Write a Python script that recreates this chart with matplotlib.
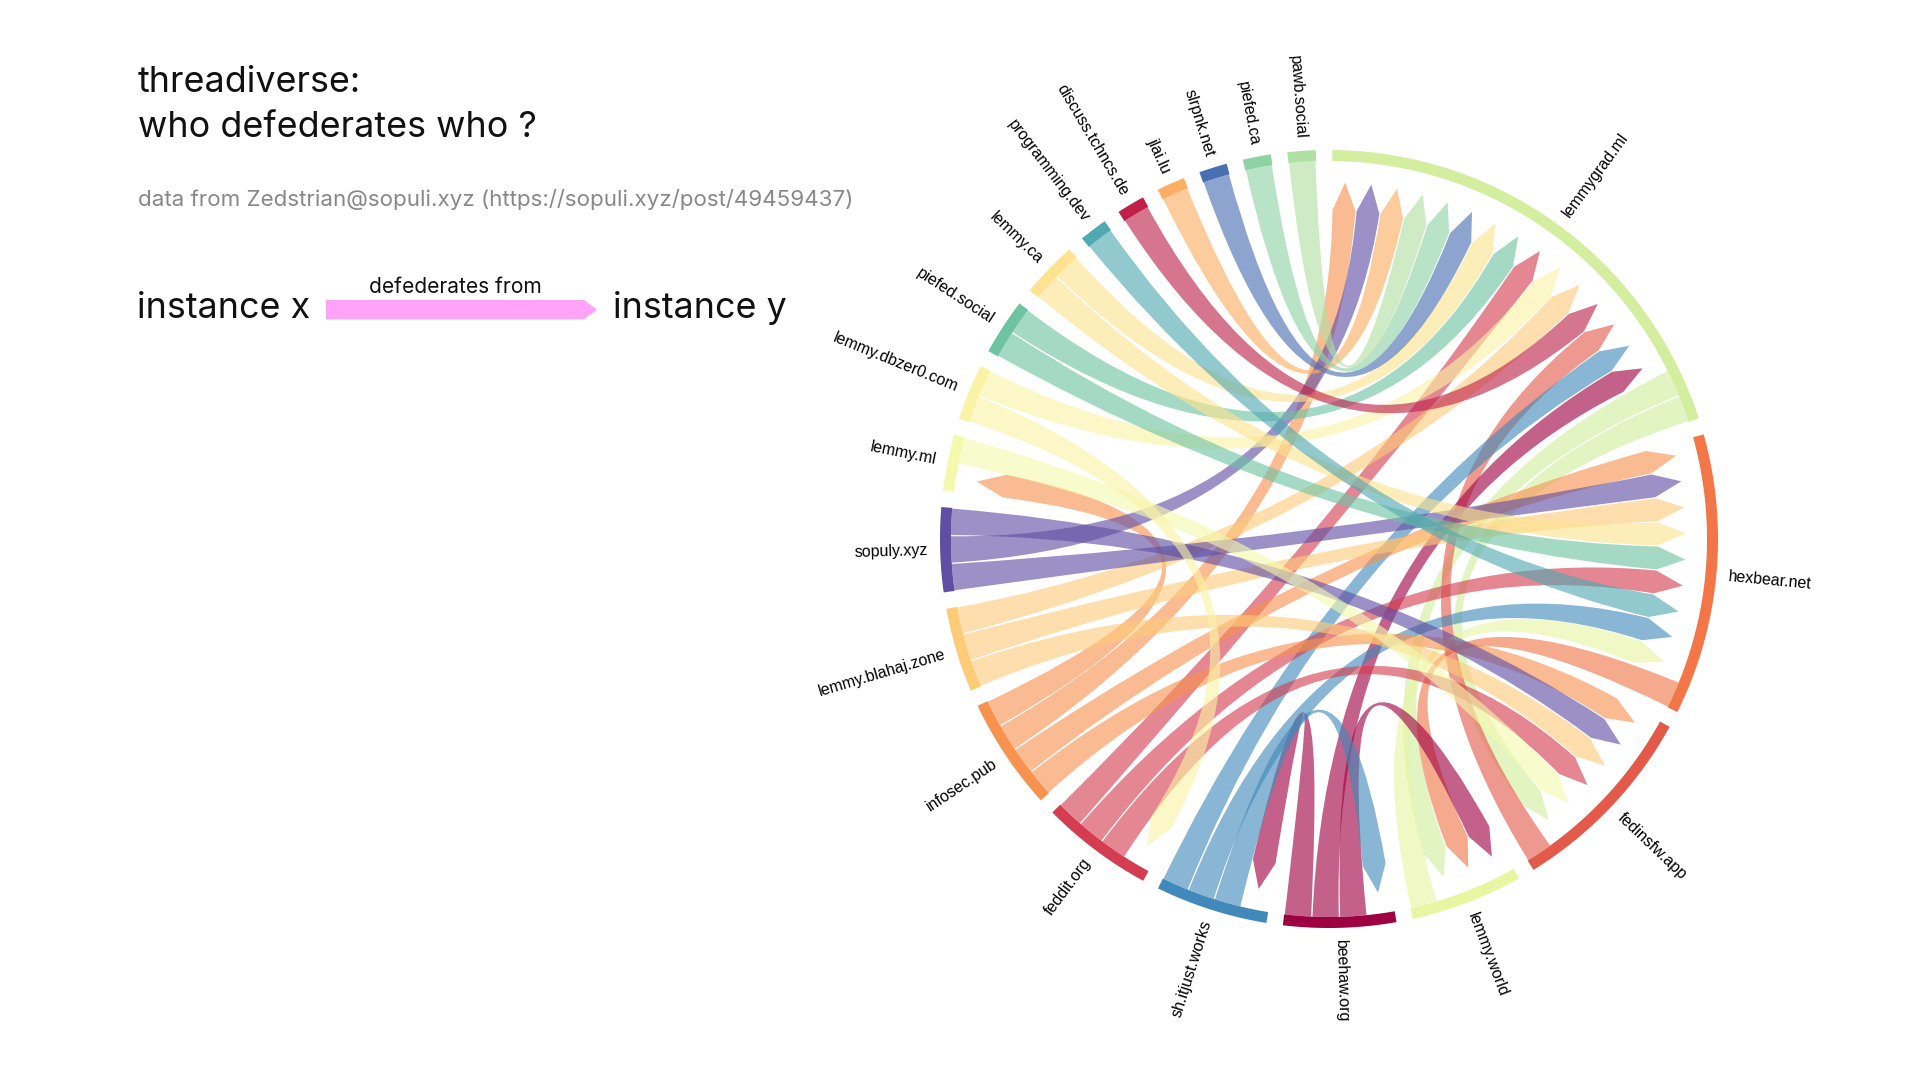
import numpy as np
import matplotlib
matplotlib.use("Agg")
import matplotlib.pyplot as plt
from matplotlib.path import Path
from matplotlib.patches import PathPatch, Polygon

# instances, clockwise from the top of the circle
instances = [
    "lemmygrad.ml", "hexbear.net", "fedinsfw.app", "lemmy.world", "beehaw.org",
    "sh.itjust.works", "feddit.org", "infosec.pub", "lemmy.blahaj.zone", "sopuly.xyz",
    "lemmy.ml", "lemmy.dbzer0.com", "piefed.social", "lemmy.ca", "programming.dev",
    "discuss.tchncs.de", "jlai.lu", "slrpnk.net", "piefed.ca", "pawb.social",
]
ring_colors = [
    "#d3ee9f", "#f27647", "#e35a4a", "#e8f6a2", "#9e0142",
    "#4189ba", "#d43d4f", "#f7924f", "#fecb79", "#5f4ea3",
    "#f5f9ad", "#faf3a5", "#6dc3a4", "#fde38f", "#50a8b2",
    "#be2049", "#fdae62", "#486fb1", "#8fd3a3", "#b0dfa4",
]

# who defederates from whom (targets listed in the order they leave the arc)
defederates = {
    "lemmygrad.ml": ["lemmy.world", "fedinsfw.app"],
    "hexbear.net": ["lemmy.world"],
    "fedinsfw.app": ["lemmygrad.ml"],
    "lemmy.world": ["hexbear.net"],
    "beehaw.org": ["lemmy.world", "lemmygrad.ml", "sh.itjust.works"],
    "sh.itjust.works": ["beehaw.org", "hexbear.net", "lemmygrad.ml"],
    "feddit.org": ["fedinsfw.app", "hexbear.net", "lemmygrad.ml"],
    "infosec.pub": ["fedinsfw.app", "hexbear.net", "lemmygrad.ml", "lemmy.ml"],
    "lemmy.blahaj.zone": ["fedinsfw.app", "hexbear.net", "lemmygrad.ml"],
    "sopuly.xyz": ["hexbear.net", "lemmygrad.ml", "fedinsfw.app"],
    "lemmy.ml": ["fedinsfw.app"],
    "lemmy.dbzer0.com": ["feddit.org", "lemmygrad.ml"],
    "piefed.social": ["hexbear.net", "lemmygrad.ml"],
    "lemmy.ca": ["hexbear.net", "lemmygrad.ml"],
    "programming.dev": ["hexbear.net"],
    "discuss.tchncs.de": ["lemmygrad.ml"],
    "jlai.lu": ["lemmygrad.ml"],
    "slrpnk.net": ["lemmygrad.ml"],
    "piefed.ca": ["lemmygrad.ml"],
    "pawb.social": ["lemmygrad.ml"],
}
# order in which the arrows arrive on each arc
received_from = {
    "lemmygrad.ml": ["infosec.pub", "sopuly.xyz", "jlai.lu", "pawb.social", "piefed.ca",
                     "slrpnk.net", "lemmy.ca", "piefed.social", "feddit.org",
                     "lemmy.dbzer0.com", "lemmy.blahaj.zone", "discuss.tchncs.de",
                     "fedinsfw.app", "sh.itjust.works", "beehaw.org"],
    "hexbear.net": ["infosec.pub", "sopuly.xyz", "lemmy.blahaj.zone", "lemmy.ca",
                    "piefed.social", "feddit.org", "programming.dev", "sh.itjust.works",
                    "lemmy.world"],
    "fedinsfw.app": ["infosec.pub", "sopuly.xyz", "lemmy.blahaj.zone", "feddit.org",
                     "lemmy.ml", "lemmygrad.ml"],
    "lemmy.world": ["beehaw.org", "hexbear.net", "lemmygrad.ml"],
    "beehaw.org": ["sh.itjust.works"],
    "sh.itjust.works": ["beehaw.org"],
    "feddit.org": ["lemmy.dbzer0.com"],
    "lemmy.ml": ["infosec.pub"],
}

CX, CY = 1329, 539
R_OUT, R_IN = 389, 378
R_TIP, R_HEAD = 357, 329
GAP = 2.45
START = 0.5


def pt(r, a):
    t = np.radians(a)
    return (CX + r * np.sin(t), CY - r * np.cos(t))


def arc(r, a0, a1):
    n = max(2, int(abs(a1 - a0) * 3) + 2)
    return [pt(r, a) for a in np.linspace(a0, a1, n)]


color_of = dict(zip(instances, ring_colors))
n_links = sum(len(v) for v in defederates.values())
unit = (360 - GAP * len(instances)) / (2 * n_links)

slots = {}
spans = {}
angle = START
for name in instances:
    a_start = angle
    for src in received_from.get(name, []):
        slots[(src, name, "in")] = (angle, angle + unit)
        angle += unit
    for dst in defederates.get(name, []):
        slots[(name, dst, "out")] = (angle, angle + unit)
        angle += unit
    spans[name] = (a_start, angle)
    angle += GAP

fig = plt.figure(figsize=(19.2, 10.8), dpi=100)
ax = fig.add_axes([0, 0, 1, 1])
ax.set_xlim(0, 1920)
ax.set_ylim(1080, 0)
ax.axis("off")


def ribbon(s0, s1, t0, t1):
    pad = 0.1
    s0, s1, t0, t1 = s0 + pad, s1 - pad, t0 + pad, t1 - pad
    verts = arc(R_IN, s0, s1)
    codes = [Path.MOVETO] + [Path.LINETO] * (len(verts) - 1)
    verts += [(CX, CY), pt(R_HEAD, t0), pt(R_TIP, (t0 + t1) / 2), pt(R_HEAD, t1),
              (CX, CY), pt(R_IN, s0), pt(R_IN, s0)]
    codes += [Path.CURVE3, Path.CURVE3, Path.LINETO, Path.LINETO,
              Path.CURVE3, Path.CURVE3, Path.CLOSEPOLY]
    return Path(verts, codes)


for src in instances:
    for dst in defederates.get(src, []):
        s0, s1 = slots[(src, dst, "out")]
        t0, t1 = slots[(src, dst, "in")]
        ax.add_patch(PathPatch(ribbon(s0, s1, t0, t1), facecolor=color_of[src],
                               edgecolor="none", alpha=0.62, zorder=2))

for name in instances:
    a0, a1 = spans[name]
    ring = arc(R_OUT, a0, a1) + arc(R_IN, a1, a0)
    ax.add_patch(Polygon(ring, closed=True, facecolor=color_of[name],
                         edgecolor="none", zorder=3))
    mid = (a0 + a1) / 2
    x, y = pt(401, mid)
    if mid < 180:
        rot, ha = 90 - mid, "left"
    else:
        rot, ha = 270 - mid, "right"
    ax.text(x, y, name, rotation=rot, rotation_mode="anchor", ha=ha, va="center",
            fontsize=11.5, family="Liberation Sans", color="#000000", zorder=4)

# title block
title_font = ["Inter", "DejaVu Sans"]
ax.text(138, 92, "threadiverse:", fontsize=25.8, family=title_font, va="baseline",
        color="#111111")
ax.text(138, 137, "who defederates who ?", fontsize=25.8, family=title_font,
        va="baseline", color="#111111")
ax.text(138, 206, "data from Zedstrian@sopuli.xyz (https://sopuli.xyz/post/49459437)",
        fontsize=16.1, family=title_font, va="baseline", color="#888888")

ax.text(137, 318, "instance x", fontsize=25.8, family=title_font, va="baseline",
        color="#111111")
ax.add_patch(Polygon([(326, 300), (584, 300), (597, 309.7), (584, 319.3), (326, 319.3)],
                     closed=True, facecolor="#ffa3f8", edgecolor="none"))
ax.text(455, 292.7, "defederates from", fontsize=15.1, family=title_font, ha="center",
        va="baseline", color="#111111")
ax.text(613, 318, "instance y", fontsize=25.8, family=title_font, va="baseline",
        color="#111111")

fig.savefig("out.png", dpi=100, facecolor="white")
